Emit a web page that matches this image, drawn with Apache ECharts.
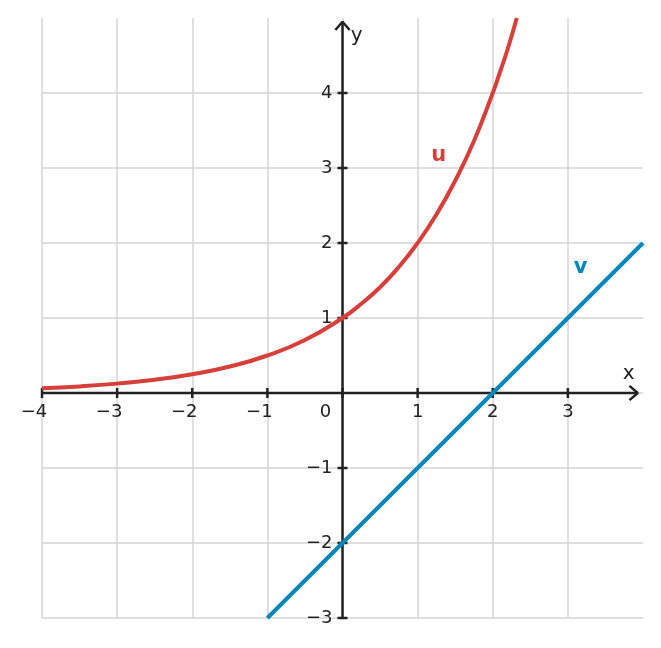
<!DOCTYPE html>
<html>
<head>
<meta charset="utf-8">
<script src="https://cdn.jsdelivr.net/npm/echarts@6/dist/echarts.min.js"></script>
<style>
  html, body { margin: 0; padding: 0; background: #fff; }
  #main { width: 661px; height: 648px; }
</style>
</head>
<body>
<div id="main"></div>
<script>
// tick labels on the axes
var xTicks = [-4, -3, -2, -1, 0, 1, 2, 3];
var yTicks = [-3, -2, -1, 1, 2, 3, 4];

// u: exponential curve
var uX = [-4, -3.5, -3, -2.5, -2, -1.5, -1, -0.5, 0, 0.25, 0.5, 0.75, 1, 1.25, 1.5, 1.75, 2, 2.1, 2.2, 2.32];
var uY = [0.063, 0.088, 0.125, 0.177, 0.25, 0.354, 0.5, 0.707, 1, 1.19, 1.41, 1.68, 2, 2.38, 2.83, 3.36, 4, 4.29, 4.59, 5];

// v: straight line
var vX = [-1, 4];
var vY = [-3, 2];

var RED = '#d63f3a';
var BLUE = '#0386b9';
var INK = '#222222';
var FONT = 'DejaVu Sans';

function minus(v) { return String(v).replace('-', '\u2212'); }
function pairs(xs, ys) {
    var out = [];
    for (var i = 0; i < xs.length; i++) out.push([xs[i], ys[i]]);
    return out;
}

var myChart = echarts.init(document.getElementById('main'));

var gridLine = { show: true, showMaxLine: false, lineStyle: { color: '#d4d4d4', width: 1.5 } };

var option = {
    animation: false,
    backgroundColor: '#fff',
    textStyle: { fontFamily: FONT },
    grid: { left: 42, right: 18, top: 18, bottom: 30, containLabel: false },
    xAxis: {
        type: 'value', min: -4, max: 4, interval: 1,
        axisLine: { show: false }, axisTick: { show: false }, axisLabel: { show: false },
        splitLine: gridLine
    },
    yAxis: {
        type: 'value', min: -3, max: 5, interval: 1,
        axisLine: { show: false }, axisTick: { show: false }, axisLabel: { show: false },
        splitLine: gridLine
    },
    series: [
        // axis lines with open arrow heads
        { type: 'line', data: [[-4, 0], [3.93, 0]], symbol: 'none', z: 3,
          lineStyle: { color: INK, width: 2.5 } },
        { type: 'line', data: [[3.82, 0.095], [3.93, 0], [3.82, -0.095]], symbol: 'none', z: 3,
          lineStyle: { color: INK, width: 2.5 } },
        { type: 'line', data: [[0, -3], [0, 4.95]], symbol: 'none', z: 3,
          lineStyle: { color: INK, width: 2.5 } },
        { type: 'line', data: [[-0.095, 4.84], [0, 4.95], [0.095, 4.84]], symbol: 'none', z: 3,
          lineStyle: { color: INK, width: 2.5 } },
        // tick marks crossing the axes, with their labels
        { type: 'scatter', z: 3, symbol: 'rect', symbolSize: [2.5, 10], itemStyle: { color: INK, opacity: 1 },
          label: { show: true, position: 'bottom', distance: 5, fontSize: 18, color: INK, fontFamily: FONT,
                   formatter: function (p) { return minus(p.value[0]); } },
          data: xTicks.map(function (t) {
              var item = { value: [t, 0] };
              if (t === 0) item.label = { offset: [-17, 0] };
              else if (t < 0) item.label = { offset: [-8, 0] }; // digit sits on the tick, minus hangs left
              return item;
          }) },
        { type: 'scatter', z: 3, symbol: 'rect', symbolSize: [10, 2.5], itemStyle: { color: INK, opacity: 1 },
          label: { show: true, position: 'left', distance: 5, fontSize: 18, color: INK, fontFamily: FONT,
                   formatter: function (p) { return minus(p.value[1]); } },
          data: yTicks.map(function (t) { return [0, t]; }) },
        // curves
        { name: 'u', type: 'line', data: pairs(uX, uY), smooth: true, symbol: 'none', z: 5,
          lineStyle: { color: RED, width: 4 } },
        { name: 'v', type: 'line', data: pairs(vX, vY), symbol: 'none', z: 5,
          lineStyle: { color: BLUE, width: 4 } },
        // names
        { type: 'scatter', z: 6, symbolSize: 0, itemStyle: { opacity: 1 },
          label: { show: true, position: 'inside', fontFamily: FONT, formatter: function (p) { return p.value[2]; } },
          data: [
              { value: [1.28, 3.16, 'u'], label: { color: RED, fontWeight: 'bold', fontSize: 21 } },
              { value: [3.17, 1.67, 'v'], label: { color: BLUE, fontWeight: 'bold', fontSize: 21 } },
              { value: [3.81, 0.26, 'x'], label: { color: INK, fontSize: 20 } },
              { value: [0.19, 4.76, 'y'], label: { color: INK, fontSize: 20 } }
          ] }
    ]
};
myChart.setOption(option);
</script>
</body>
</html>
